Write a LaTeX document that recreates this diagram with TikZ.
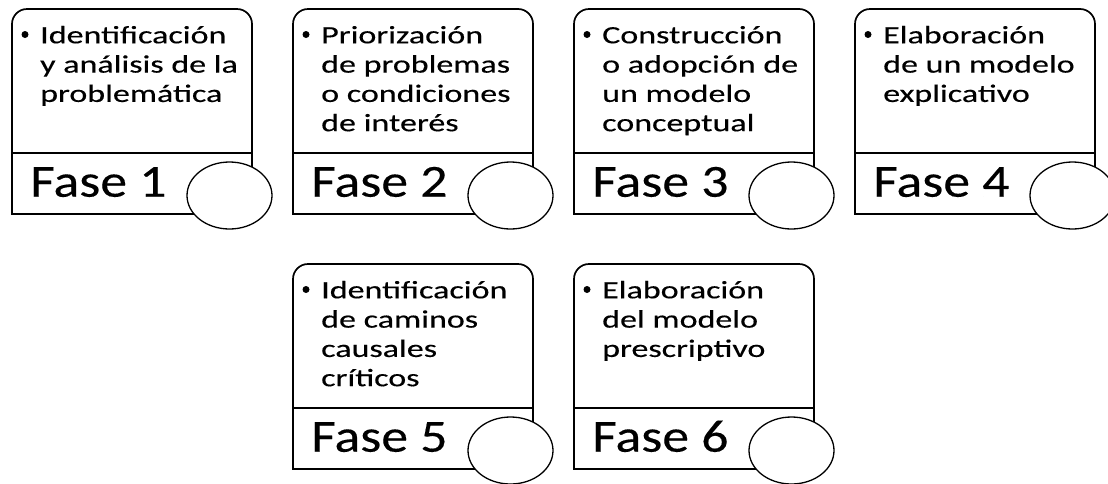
\documentclass[tikz,border=0pt]{standalone}
\usepackage{fontspec}
\setmainfont{Carlito}
\newfontfamily\bodyfont{Carlito}[FakeStretch=1.36,FakeBold=0.3]
\newfontfamily\fasefont{Carlito}[FakeStretch=1.17,FakeBold=0.3]
\usetikzlibrary{shapes.geometric}
\tikzset{
  boxline/.style={draw=black, line width=1.7pt},
  bodytext/.style={anchor=base west, inner sep=0pt, font=\bodyfont\fontsize{25}{29.3}\selectfont},
  fasetext/.style={anchor=base west, inner sep=0pt, font=\fasefont\fontsize{46}{50}\selectfont},
  bulletdot/.style={circle, fill=black, inner sep=0pt, minimum size=7pt},
  badge/.style={ellipse, draw=black, fill=white, line width=1.3pt, inner sep=0pt, minimum width=85pt, minimum height=67pt}
}
% #1 left x, #2 top y, #3 number, #4 lines
\newcommand\phasecard[4]{%
  \draw[boxline, rounded corners=15pt] (#1,#2+144) -- (#1,#2) -- (#1+240,#2) -- (#1+240,#2+144);
  \draw[boxline] (#1,#2+144) rectangle (#1+240,#2+205);
  \node[bulletdot] (b#3) at (#1+13,#2+25.5) {};
  \node[bodytext] (t#3) at (#1+28,#2+34.3) {\vtop{#4}};
  \node[fasetext] (f#3) at (#1+18,#2+187.7) {Fase #3};
  \node[badge] (e#3) at (#1+217.5,#2+186.5) {};
}
\begin{document}
\begin{tikzpicture}[x=1pt,y=-1pt]
\useasboundingbox (0,0) rectangle (1108,483);
\fill[white] (0,0) rectangle (1108,483);
\phasecard{12}{9}{1}{\hbox{Identificación}\hbox{y análisis de la}\hbox{problemática}}
\phasecard{293}{9}{2}{\hbox{Priorización}\hbox{de problemas}\hbox{o condiciones}\hbox{de interés}}
\phasecard{574}{9}{3}{\hbox{Construcción}\hbox{o adopción de}\hbox{un modelo}\hbox{conceptual}}
\phasecard{855}{9}{4}{\hbox{Elaboración}\hbox{de un modelo}\hbox{explicativo}}
\phasecard{293}{264}{5}{\hbox{Identificación}\hbox{de caminos}\hbox{causales}\hbox{críticos}}
\phasecard{574}{264}{6}{\hbox{Elaboración}\hbox{del modelo}\hbox{prescriptivo}}
\end{tikzpicture}
\end{document}
